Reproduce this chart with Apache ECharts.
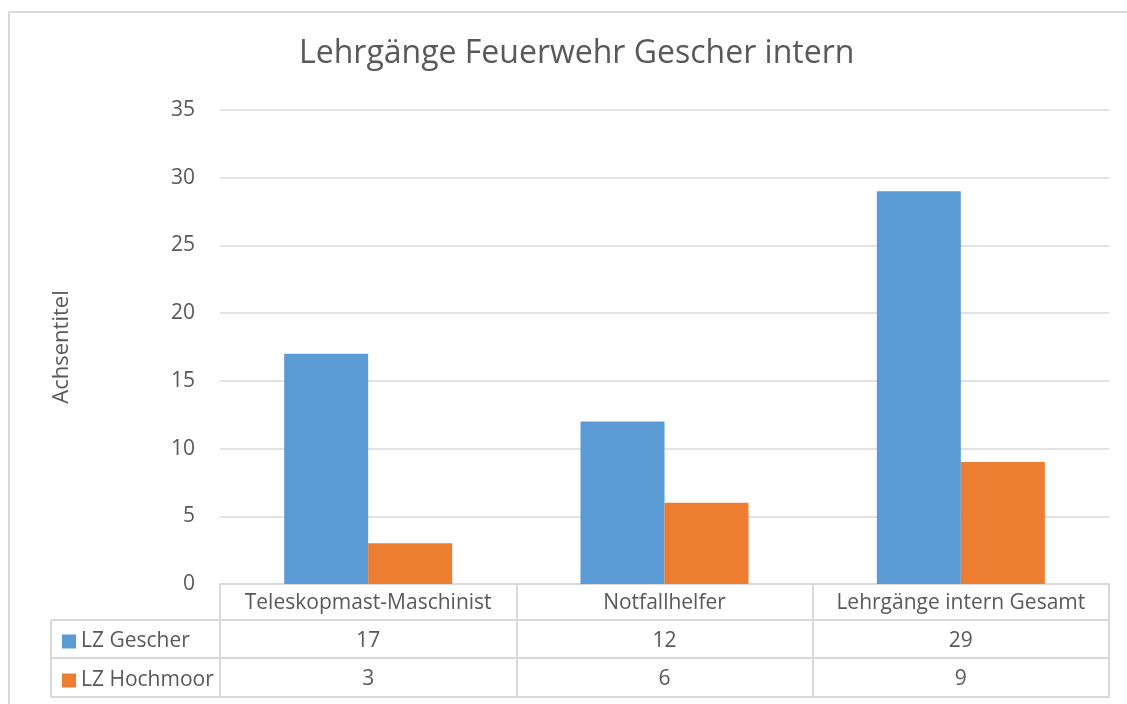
<!DOCTYPE html>
<html>
<head>
<meta charset="utf-8">
<script src="https://cdn.jsdelivr.net/npm/echarts@6/dist/echarts.min.js"></script>
<style>
  html, body { margin: 0; padding: 0; background: #fff; }
  #main { width: 1127px; height: 704px; }
</style>
</head>
<body>
<div id="main"></div>
<script>
var categories = ['Teleskopmast-Maschinist', 'Notfallhelfer', 'Lehrgänge intern Gesamt']
var seriesNames = ['LZ Gescher', 'LZ Hochmoor']
var gescher = [17, 12, 29]
var hochmoor = [3, 6, 9]
var yTicks = [0, 5, 10, 15, 20, 25, 30, 35]

var FONT = 'Open Sans'
var TXT = '#595959'
var LINE = '#d9d9d9'

var myChart = echarts.init(document.getElementById('main'))

// one x axis per table row, stacked with offset
function tableAxis (labels, offset, tickLen, show, margin) {
  return {
    type: 'category',
    data: labels,
    position: 'bottom',
    offset: offset,
    axisLine: { show: true, lineStyle: { color: LINE, width: 2 } },
    axisTick: { show: show, length: tickLen, lineStyle: { color: LINE, width: 2 } },
    axisLabel: { show: show, color: TXT, fontFamily: FONT, fontSize: 21, margin: margin, interval: 0 },
    splitLine: { show: false }
  }
}

var option = {
  animation: false,
  title: {
    text: 'Lehrgänge Feuerwehr Gescher intern',
    left: 294,
    top: 33,
    textStyle: { color: TXT, fontFamily: FONT, fontSize: 32, fontWeight: 'normal' }
  },
  legend: {
    orient: 'vertical',
    left: 57,
    top: 626,
    itemWidth: 14,
    itemHeight: 14,
    itemGap: 18,
    itemTextGap: 6,
    icon: 'rect',
    selectedMode: false,
    textStyle: { color: TXT, fontFamily: FONT, fontSize: 21, lineHeight: 21 },
    data: seriesNames
  },
  grid: { left: 220, right: 18, top: 110, bottom: 120 },
  xAxis: [
    tableAxis(categories, 0, 36, true, 9),
    tableAxis(gescher.map(String), 36, 38, true, 11),
    tableAxis(hochmoor.map(String), 74, 39, true, 11),
    tableAxis(['', '', ''], 113, 0, false, 0)
  ],
  yAxis: {
    type: 'value',
    min: yTicks[0],
    max: yTicks[yTicks.length - 1],
    interval: 5,
    name: 'Achsentitel',
    nameLocation: 'middle',
    nameGap: 147,
    nameTextStyle: { color: TXT, fontFamily: FONT, fontSize: 22 },
    axisLine: { show: false },
    axisTick: { show: false },
    axisLabel: { color: TXT, fontFamily: FONT, fontSize: 21, margin: 25 },
    splitLine: { lineStyle: { color: LINE, width: 1.5 } }
  },
  series: [
    { name: seriesNames[0], type: 'bar', data: gescher, barWidth: 84, barGap: '0%', itemStyle: { color: '#5B9BD5' } },
    { name: seriesNames[1], type: 'bar', data: hochmoor, barWidth: 84, barGap: '0%', itemStyle: { color: '#ED7D31' } }
  ],
  graphic: [
    // chart border
    { type: 'rect', shape: { x: 9, y: 12, width: 1200, height: 800 }, style: { fill: 'none', stroke: LINE, lineWidth: 2 }, silent: true },
    // left column of data table
    { type: 'line', shape: { x1: 51, y1: 620, x2: 220, y2: 620 }, style: { stroke: LINE, lineWidth: 2 } },
    { type: 'line', shape: { x1: 51, y1: 658, x2: 220, y2: 658 }, style: { stroke: LINE, lineWidth: 2 } },
    { type: 'line', shape: { x1: 51, y1: 697, x2: 220, y2: 697 }, style: { stroke: LINE, lineWidth: 2 } },
    { type: 'line', shape: { x1: 51, y1: 620, x2: 51, y2: 697 }, style: { stroke: LINE, lineWidth: 2 } }
  ]
}

myChart.setOption(option)
</script>
</body>
</html>
